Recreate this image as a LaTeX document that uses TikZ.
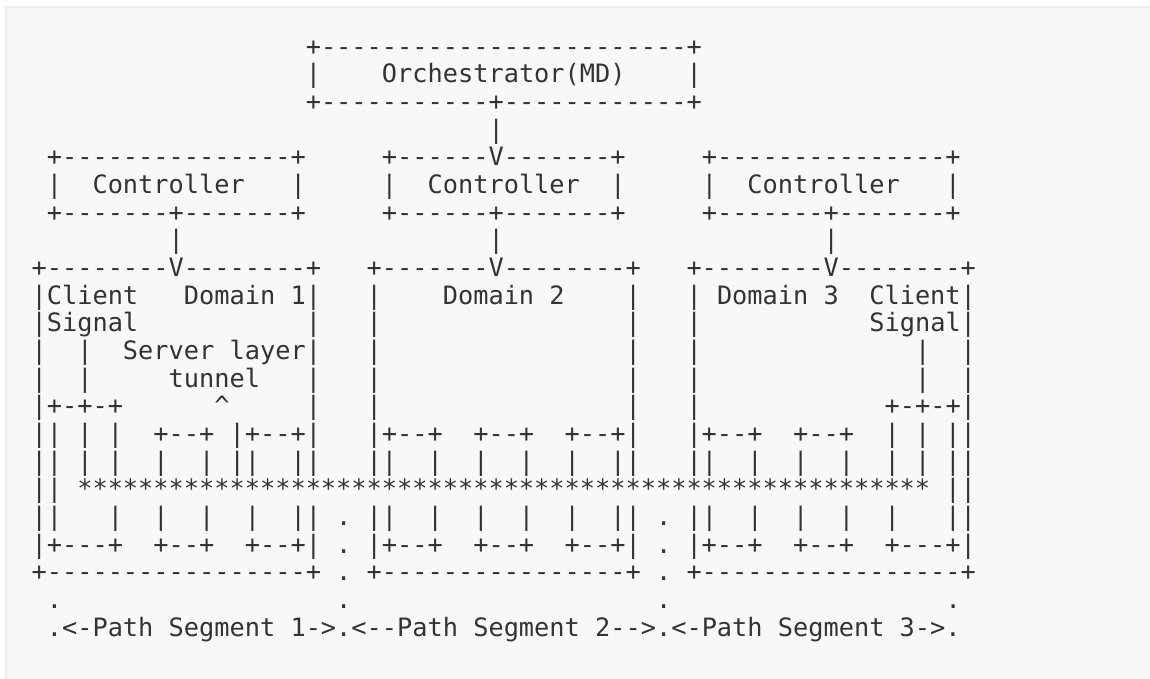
\documentclass[tikz,border=0pt]{standalone}
\usepackage{fontspec}
\setmonofont{DejaVu Sans Mono}
\usetikzlibrary{positioning}

\definecolor{ink}{HTML}{333333}
\definecolor{panel}{HTML}{F8F8F8}
\definecolor{panelrule}{HTML}{ECECEC}

% one column of the ascii grid
\newlength\cw
\AtBeginDocument{\settowidth\cw{\ttfamily\fontsize{25.3pt}{27.67pt}\selectfont +}}
\newcommand\gap[1]{\hspace*{#1\cw}}

\tikzset{row/.style={anchor=base west, inner sep=0pt, text=ink, font=\ttfamily\fontsize{25.3pt}{27.67pt}\selectfont}}

\begin{document}
\begin{tikzpicture}[node distance=27.67pt, on grid]
  \useasboundingbox (-31.4pt,55.1pt) rectangle (1118.6pt,-623.9pt);
  \fill[panelrule] (-26.4pt,49.1pt) rectangle (1118.6pt,-623.9pt);
  \fill[panel] (-24.4pt,47.1pt) rectangle (1118.6pt,-623.9pt);

  % orchestrator
  \node[row] (orchtop) at (0,0) {\gap{18}+------------------------+};
  \node[below=of orchtop.base west, row] (orch) {\gap{18}|\gap{4}Orchestrator(MD)\gap{4}|};
  \node[below=of orch.base west, row] (orchbot) {\gap{18}+-----------+------------+};
  \node[below=of orchbot.base west, row] (orchlink) {\gap{30}|};

  % controllers
  \node[below=of orchlink.base west, row] (ctrltop) {\gap{1}+---------------+\gap{5}+------V-------+\gap{5}+---------------+};
  \node[below=of ctrltop.base west, row] (ctrl) {\gap{1}|\gap{2}Controller\gap{3}|\gap{5}|\gap{2}Controller\gap{2}|\gap{5}|\gap{2}Controller\gap{3}|};
  \node[below=of ctrl.base west, row] (ctrlbot) {\gap{1}+-------+-------+\gap{5}+------+-------+\gap{5}+-------+-------+};
  \node[below=of ctrlbot.base west, row] (ctrllink) {\gap{9}|\gap{20}|\gap{21}|};

  % domains
  \node[below=of ctrllink.base west, row] (domtop) {+--------V--------+\gap{3}+-------V--------+\gap{3}+--------V--------+};
  \node[below=of domtop.base west, row] (domname) {|Client\gap{3}Domain 1|\gap{3}|\gap{4}Domain 2\gap{4}|\gap{3}|\gap{1}Domain 3\gap{2}Client|};
  \node[below=of domname.base west, row] (signal) {|Signal\gap{11}|\gap{3}|\gap{16}|\gap{3}|\gap{11}Signal|};
  \node[below=of signal.base west, row] (server) {|\gap{2}|\gap{2}Server layer|\gap{3}|\gap{16}|\gap{3}|\gap{14}|\gap{2}|};
  \node[below=of server.base west, row] (tunnel) {|\gap{2}|\gap{5}tunnel\gap{3}|\gap{3}|\gap{16}|\gap{3}|\gap{14}|\gap{2}|};
  \node[below=of tunnel.base west, row] (tap) {|+-+-+\gap{6}\textasciicircum\gap{5}|\gap{3}|\gap{16}|\gap{3}|\gap{12}+-+-+|};
  \node[below=of tap.base west, row] (nodetop) {||\gap{1}|\gap{1}|\gap{2}+--+\gap{1}|+--+|\gap{3}|+--+\gap{2}+--+\gap{2}+--+|\gap{3}|+--+\gap{2}+--+\gap{2}|\gap{1}|\gap{1}||};
  \node[below=of nodetop.base west, row] (nodes) {||\gap{1}|\gap{1}|\gap{2}|\gap{2}|\gap{1}||\gap{2}||\gap{3}||\gap{2}|\gap{2}|\gap{2}|\gap{2}|\gap{2}||\gap{3}||\gap{2}|\gap{2}|\gap{2}|\gap{2}|\gap{1}|\gap{1}||};
  \node[below=of nodes.base west, row] (stars) {||\gap{1}********************************************************\gap{1}||};
  \node[below=of stars.base west, row] (nodes2) {||\gap{3}|\gap{2}|\gap{2}|\gap{2}|\gap{2}||\gap{1}.\gap{1}||\gap{2}|\gap{2}|\gap{2}|\gap{2}|\gap{2}||\gap{1}.\gap{1}||\gap{2}|\gap{2}|\gap{2}|\gap{2}|\gap{3}||};
  \node[below=of nodes2.base west, row] (nodebot) {|+---+\gap{2}+--+\gap{2}+--+|\gap{1}.\gap{1}|+--+\gap{2}+--+\gap{2}+--+|\gap{1}.\gap{1}|+--+\gap{2}+--+\gap{2}+---+|};
  \node[below=of nodebot.base west, row] (dombot) {+-----------------+\gap{1}.\gap{1}+----------------+\gap{1}.\gap{1}+-----------------+};

  % path segments
  \node[below=of dombot.base west, row] (segdots) {\gap{1}.\gap{18}.\gap{20}.\gap{18}.};
  \node[below=of segdots.base west, row] (segments) {\gap{1}.<-Path Segment 1->.<--Path Segment 2-->.<-Path Segment 3->.};
\end{tikzpicture}
\end{document}
